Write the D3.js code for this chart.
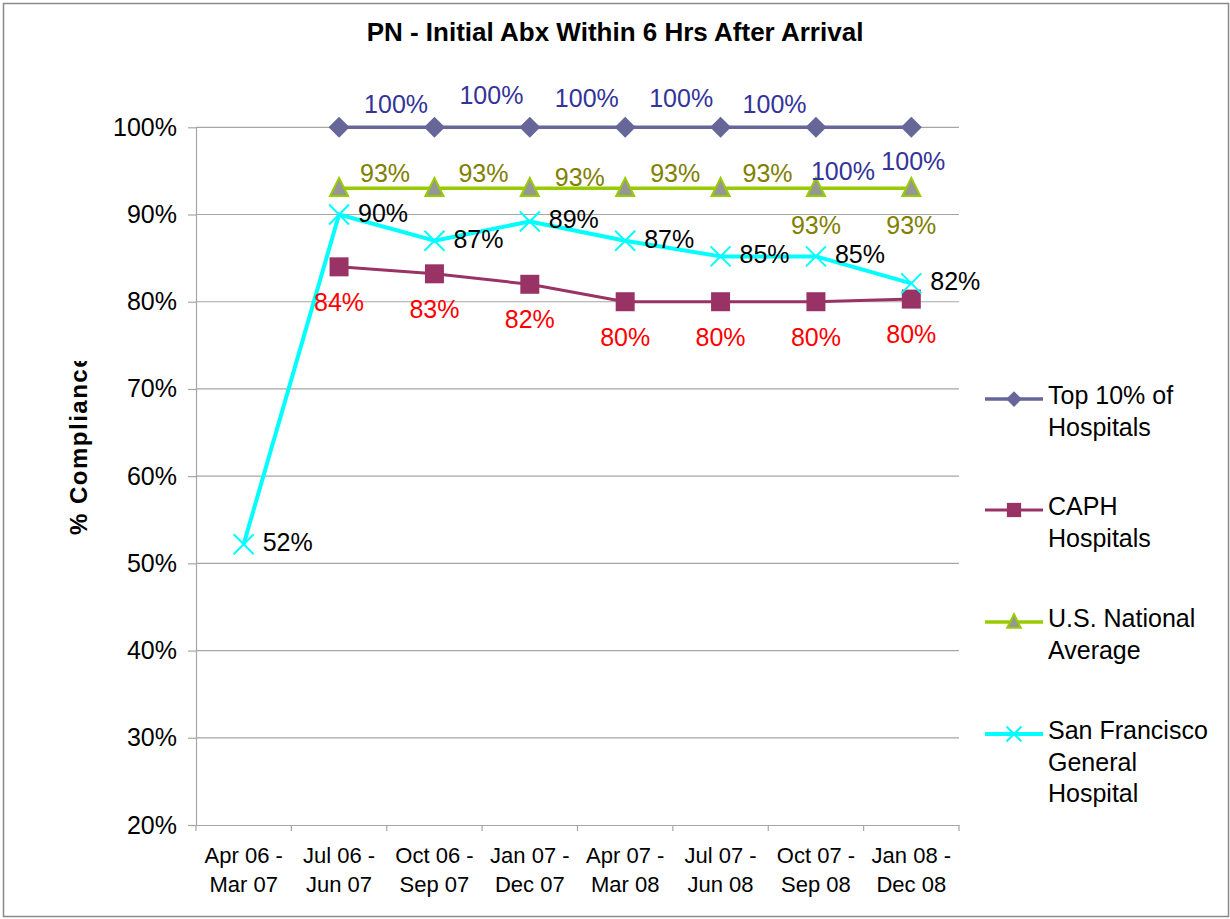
<!DOCTYPE html>
<html>
<head>
  <meta charset="utf-8">
  <script src="https://d3js.org/d3.v7.min.js"></script>
  <style>
    body { margin: 0; background: #fff; }
    text { font-family: "Liberation Sans", Arial, sans-serif; }
  </style>
</head>
<body>
<script type="text/javascript">
  // chart data (null = no value for that period)
  var periods = ["Apr 06 -|Mar 07", "Jul 06 -|Jun 07", "Oct 06 -|Sep 07", "Jan 07 -|Dec 07",
                 "Apr 07 -|Mar 08", "Jul 07 -|Jun 08", "Oct 07 -|Sep 08", "Jan 08 -|Dec 08"];
  var top10 = [null, 1.00, 1.00, 1.00, 1.00, 1.00, 1.00, 1.00];
  var caph = [null, 0.84, 0.832, 0.82, 0.80, 0.80, 0.80, 0.803];
  var national = [null, 0.93, 0.93, 0.93, 0.93, 0.93, 0.93, 0.93];
  var sfgh = [0.522, 0.90, 0.87, 0.892, 0.87, 0.852, 0.852, 0.821];
  var yTicks = [0.2, 0.3, 0.4, 0.5, 0.6, 0.7, 0.8, 0.9, 1.0];
  var seriesNames = ["Top 10% of|Hospitals", "CAPH|Hospitals", "U.S. National|Average",
                     "San Francisco|General|Hospital"];

  // hand-placed label offsets (dx, dy from the point), like the dragged Excel labels
  var topLabelOff = [null, [57, -14], [57, -23], [57, -20], [56, -20], [54, -14], [27, 53], [2, 43]];
  var natLabelOff = [null, [46, -6], [49, -6], [50, -2], [50, -6], [47, -6], [0, 46], [0, 46]];

  function draw() {
    var W = 1230, H = 919;
    var svg = d3.select("body").append("svg")
        .attr("width", W).attr("height", H);

    svg.append("rect")
        .attr("x", 3.5).attr("y", 3.5)
        .attr("width", 1225).attr("height", 913)
        .attr("fill", "#fff").attr("stroke", "#8a8a8a").attr("stroke-width", 1.5);

    var x = d3.scaleBand().domain(periods).range([196, 959]).padding(0);
    var y = d3.scaleLinear().domain([0.2, 1.0]).range([825, 127.3]);
    var cx = function(i) { return x(periods[i]) + x.bandwidth() / 2; };
    var pct = d3.format(".0%");

    // title
    svg.append("text")
        .attr("x", 615).attr("y", 41)
        .attr("text-anchor", "middle")
        .style("font-size", "26px").style("font-weight", "bold")
        .text("PN - Initial Abx Within 6 Hrs After Arrival");

    // gridlines
    svg.append("g").selectAll("line")
        .data(yTicks.slice(1))
        .enter().append("line")
        .attr("x1", 196).attr("x2", 959)
        .attr("y1", function(d) { return y(d); })
        .attr("y2", function(d) { return y(d); })
        .attr("stroke", "#a6a6a6").attr("stroke-width", 1.2);

    // y axis
    var yAxis = d3.axisLeft(y).tickValues(yTicks).tickFormat(pct).tickSizeInner(8).tickSizeOuter(0).tickPadding(11);
    var gy = svg.append("g").attr("transform", "translate(196,0)").call(yAxis);
    gy.selectAll("path, line").attr("stroke", "#a6a6a6").attr("stroke-width", 1.2);
    gy.selectAll("text").style("font-size", "25px").attr("fill", "#000")
        .attr("font-family", null);

    // x axis
    var xAxis = d3.axisBottom(x).tickSize(0).tickFormat("");
    var gx = svg.append("g").attr("transform", "translate(0,825)").call(xAxis);
    gx.select("path").attr("stroke", "#a6a6a6").attr("stroke-width", 1.2);
    gx.selectAll(".bnd")
        .data(d3.range(periods.length + 1))
        .enter().append("line")
        .attr("x1", function(i) { return 196 + i * x.bandwidth(); })
        .attr("x2", function(i) { return 196 + i * x.bandwidth(); })
        .attr("y1", 0).attr("y2", 6)
        .attr("stroke", "#a6a6a6").attr("stroke-width", 1.2);
    var xl = svg.append("g").selectAll("text")
        .data(periods)
        .enter().append("text")
        .attr("x", function(d, i) { return cx(i); })
        .attr("y", 863)
        .attr("text-anchor", "middle")
        .style("font-size", "22px");
    xl.each(function(d) {
      var t = d3.select(this), parts = d.split("|");
      parts.forEach(function(p, k) {
        t.append("tspan").attr("x", t.attr("x")).attr("dy", k === 0 ? 0 : 29).text(p);
      });
    });

    // y axis title, cut at the top like the original
    svg.append("clipPath").attr("id", "ytclip")
        .append("rect").attr("x", 40).attr("y", 361).attr("width", 80).attr("height", 300);
    svg.append("g")
        .attr("clip-path", "url(#ytclip)")
      .append("text")
        .attr("transform", "translate(87,535) rotate(-90)")
        .style("font-size", "24px").style("font-weight", "bold")
        .style("letter-spacing", "1.5px")
        .text("% Compliance");

    // marker shapes
    function diamond(s) { return "M0," + (-s) + "L" + s + ",0L0," + s + "L" + (-s) + ",0Z"; }
    function square(s) { return "M" + (-s) + "," + (-s) + "h" + (2 * s) + "v" + (2 * s) + "h" + (-2 * s) + "Z"; }
    function triangle(s) { return "M0," + (-s * 1.1) + "L" + (s * 0.95) + "," + (s * 0.8) + "L" + (-s * 0.95) + "," + (s * 0.8) + "Z"; }
    function cross(s) { return "M" + (-s) + "," + (-s) + "L" + s + "," + s + "M" + (-s) + "," + s + "L" + s + "," + (-s); }

    var series = [
      { vals: top10, color: "#666699", lw: 3.5, path: diamond, size: 10.5, fill: "#666699", stroke: "none", sw: 0 },
      { vals: caph, color: "#993366", lw: 3, path: square, size: 9.5, fill: "#993366", stroke: "none", sw: 0 },
      { vals: national, color: "#99CC00", lw: 3.5, path: triangle, size: 9.5, fill: "#969696", stroke: "#99CC00", sw: 2 },
      { vals: sfgh, color: "#00FFFF", lw: 4, path: cross, size: 10, fill: "none", stroke: "#00FFFF", sw: 2 }
    ];

    var line = d3.line()
        .defined(function(d) { return d != null; })
        .x(function(d, i) { return cx(i); })
        .y(function(d) { return y(d); });

    series.forEach(function(s) {
      var g = svg.append("g");
      g.append("path")
          .datum(s.vals)
          .attr("d", line)
          .attr("fill", "none")
          .attr("stroke", s.color)
          .attr("stroke-width", s.lw)
          .attr("stroke-linejoin", "round");
      g.selectAll(".m")
          .data(s.vals.map(function(v, i) { return { v: v, i: i }; }).filter(function(d) { return d.v != null; }))
          .enter().append("path")
          .attr("transform", function(d) { return "translate(" + cx(d.i) + "," + y(d.v) + ")"; })
          .attr("d", s.path(s.size))
          .attr("fill", s.fill)
          .attr("stroke", s.stroke)
          .attr("stroke-width", s.sw);
    });

    // data labels
    function labels(vals, color, anchor, off) {
      svg.append("g").selectAll("text")
          .data(vals.map(function(v, i) { return { v: v, i: i }; }).filter(function(d) { return d.v != null; }))
          .enter().append("text")
          .attr("x", function(d) { return cx(d.i) + off(d.i)[0]; })
          .attr("y", function(d) { return y(d.v) + off(d.i)[1]; })
          .attr("text-anchor", anchor)
          .attr("fill", color)
          .style("font-size", "25px")
          .text(function(d) { return pct(d.v); });
    }
    labels(top10, "#333399", "middle", function(i) { return topLabelOff[i]; });
    labels(national, "#808000", "middle", function(i) { return natLabelOff[i]; });
    labels(caph, "#FF0000", "middle", function() { return [0, 44]; });
    labels(sfgh, "#000000", "start", function() { return [19, 7]; });

    // legend
    var legY = [399, 510, 622, 734];
    var leg = svg.append("g").selectAll("g")
        .data(series)
        .enter().append("g")
        .attr("transform", function(d, i) { return "translate(0," + legY[i] + ")"; });
    leg.append("line")
        .attr("x1", 985).attr("x2", 1043)
        .attr("stroke", function(d) { return d.color; })
        .attr("stroke-width", function(d) { return d.lw; });
    leg.append("path")
        .attr("transform", "translate(1014,0)")
        .attr("d", function(d) { return d.path(d.size * 0.75); })
        .attr("fill", function(d) { return d.fill; })
        .attr("stroke", function(d) { return d.stroke; })
        .attr("stroke-width", function(d) { return d.sw; });
    leg.append("text")
        .attr("x", 1048).attr("y", 5)
        .style("font-size", "25px")
        .each(function(d, i) {
          var t = d3.select(this);
          seriesNames[i].split("|").forEach(function(p, k) {
            t.append("tspan").attr("x", 1048).attr("dy", k === 0 ? 0 : 31.5).text(p);
          });
        });
  }

  draw();
</script>
</body>
</html>
